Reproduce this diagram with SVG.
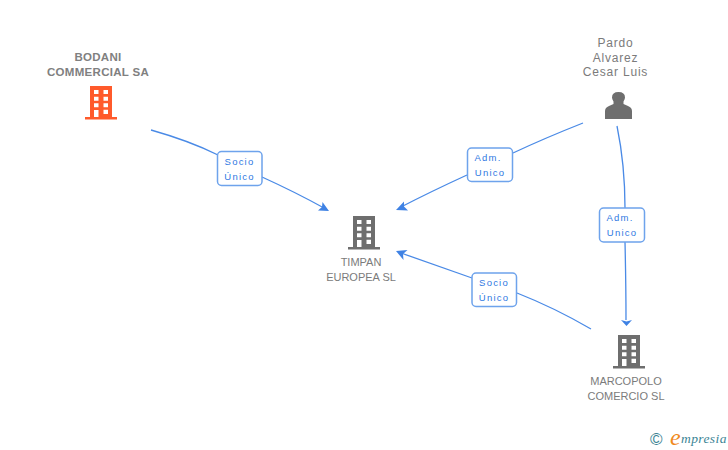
<svg xmlns="http://www.w3.org/2000/svg" width="728" height="450" viewBox="0 0 728 450">
<style>
text{font-family:"Liberation Sans",Arial,sans-serif}
.n{font-size:11px;fill:#7b7b7b;text-anchor:middle}
.p{font-size:12px;letter-spacing:.8px}
.b{font-weight:bold;font-size:11.5px;fill:#808080;letter-spacing:.3px}
.c{fill:none;stroke:#4a8ae6;stroke-width:1.3}
.h{fill:#3f82e4}
.lb{fill:#fff;stroke:#6ea3ec;stroke-width:1.5}
.l{font-size:9.500px;fill:#2f78e2;text-anchor:middle;letter-spacing:1.200px}
</style>
<defs>
<g id="bld">
<path fill-rule="evenodd" d="M5 0H27V31H32V33.500H0V31H5ZM9 4V8H13.500V4ZM18.500 4V8H23V4ZM9 10.700V14.700H13.500V10.700ZM18.500 10.700V14.700H23V10.700ZM9 17.300V21.300H13.500V17.300ZM18.500 17.300V21.300H23V17.300ZM9 24V31H13.500V24ZM18.500 23.700V28H23V23.700Z"/>
</g>
</defs>
<g id="connectors">
<path class="c" d="M151 130Q190 141 218 155"/>
<path class="c" d="M262 177Q295 192 324 208"/>
<path class="h" d="M329 211L318 210.500L322 207L322.500 202Z"/>
<path class="c" d="M583 123Q545 138 513 153"/>
<path class="c" d="M467 175Q430 192 401 207"/>
<path class="h" d="M396 210L404 201.500L404 206.500L408 210.500Z"/>
<path class="c" d="M617 126Q625 165 625 208"/>
<path class="c" d="M625 242Q626 285 626 320"/>
<path class="h" d="M626.500 326L621 320L626.500 321.500L632 320Z"/>
<path class="c" d="M591 329Q555 308 517 293"/>
<path class="c" d="M472 278Q435 265 401 253"/>
<path class="h" d="M396 251L407.500 250L403 254L403.500 260Z"/>
</g>
<g id="label-socio-1">
<rect class="lb" x="217.500" y="151.500" width="44.500" height="34" rx="4"/>
<text class="l" x="239.500" y="165">Socio</text>
<text class="l" x="239.500" y="180">Único</text>
</g>
<g id="label-adm-1">
<rect class="lb" x="467.500" y="148" width="45" height="33.500" rx="4"/>
<text class="l" x="488" y="161">Adm.</text>
<text class="l" x="490" y="176">Unico</text>
</g>
<g id="label-adm-2">
<rect class="lb" x="599.500" y="208" width="45" height="34" rx="4"/>
<text class="l" x="620" y="221">Adm.</text>
<text class="l" x="622" y="236">Unico</text>
</g>
<g id="label-socio-2">
<rect class="lb" x="472" y="273" width="44.500" height="33.500" rx="4"/>
<text class="l" x="494" y="286">Socio</text>
<text class="l" x="494" y="301">Único</text>
</g>
<g id="node-bodani">
<text class="n b" x="98" y="61">BODANI</text>
<text class="n b" x="98" y="76">COMMERCIAL SA</text>
<use href="#bld" x="85" y="86" fill="#ff5a2b"/>
</g>
<g id="node-timpan">
<use href="#bld" x="348" y="216" fill="#6e6e6e"/>
<text class="n" x="361" y="266">TIMPAN</text>
<text class="n" x="361" y="281">EUROPEA SL</text>
</g>
<g id="node-marcopolo">
<use href="#bld" x="613" y="335" fill="#6e6e6e"/>
<text class="n" x="626" y="385">MARCOPOLO</text>
<text class="n" x="626" y="400">COMERCIO SL</text>
</g>
<g id="node-pardo">
<text class="n p" x="615.500" y="47">Pardo</text>
<text class="n p" x="615.500" y="62">Alvarez</text>
<text class="n p" x="615.500" y="76">Cesar Luis</text>
<path fill="#6e6e6e" d="M605 119V111Q605 107.500 609 106L613.500 104V101.500Q612 99 612 97.500Q612 92 618.500 92Q625 92 625 97.500Q625 99 623.500 101.500V104L628 106Q632 107.500 632 111V119Z"/>
</g>
<g id="logo">
<text x="650" y="445" font-size="17" fill="#3b8494">©</text>
<text x="670" y="445" font-size="24" font-style="italic" fill="#f08a1d" style="font-family:'Liberation Serif',serif">e</text>
<text x="681" y="443" font-size="13.500" font-style="italic" fill="#3b8494" style="font-family:'Liberation Serif',serif" letter-spacing=".4">mpresia</text>
</g>
</svg>
